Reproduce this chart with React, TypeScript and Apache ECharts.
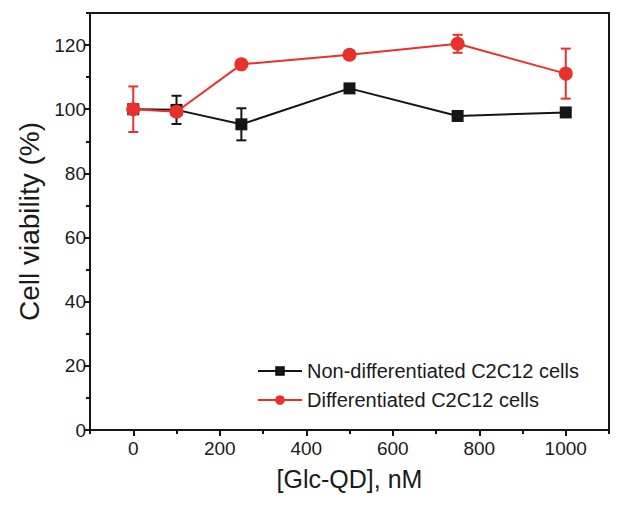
import React, { useEffect, useRef } from "react";
import * as echarts from "echarts";

const concentrations = [0, 100, 250, 500, 750, 1000];
const nonDiffMean = [100, 99.8, 95.3, 106.5, 97.9, 99.0];
const nonDiffErr = [1.0, 4.4, 5.0, 0.8, 0.8, 0.6];
const diffMean = [100, 99.2, 114.0, 117.0, 120.4, 111.1];
const diffErr = [7.1, 1.0, 0.6, 1.2, 2.8, 7.8];

const xMajorTicks = [0, 200, 400, 600, 800, 1000];
const xMinorTicks = [-100, 100, 300, 500, 700, 900, 1100];
const yMajorTicks = [0, 20, 40, 60, 80, 100, 120];
const yMinorTicks = [10, 30, 50, 70, 90, 110, 130];

const seriesNames = ["Non-differentiated C2C12 cells", "Differentiated C2C12 cells"];
const BLACK = "#151515";
const RED = "#e8312b";
const TEXT = "#1a1a1a";
const FONT = "Liberation Sans, Arial, sans-serif";

function errBars(means: number[], errs: number[]) {
  return concentrations.map((x, i) => [x, means[i] - errs[i], means[i] + errs[i]]);
}

function makeErrSeries(means: number[], errs: number[], color: string, z: number) {
  return {
    type: "custom",
    silent: true,
    z,
    data: errBars(means, errs),
    encode: { x: 0, y: [1, 2] },
    renderItem: (params: any, api: any) => {
      const x = api.value(0);
      const lo = api.value(1);
      const hi = api.value(2);
      const pHi = api.coord([x, hi]);
      const pLo = api.coord([x, lo]);
      const hw = 5;
      const style = { stroke: color, lineWidth: 2 };
      return {
        type: "group",
        children: [
          { type: "line", shape: { x1: pHi[0], y1: pHi[1], x2: pLo[0], y2: pLo[1] }, style },
          { type: "line", shape: { x1: pHi[0] - hw, y1: pHi[1], x2: pHi[0] + hw, y2: pHi[1] }, style },
          { type: "line", shape: { x1: pLo[0] - hw, y1: pLo[1], x2: pLo[0] + hw, y2: pLo[1] }, style },
        ],
      };
    },
  };
}

export default function App() {
  const ref = useRef<HTMLDivElement>(null);
  useEffect(() => {
    if (!ref.current) return;
    const chart = echarts.init(ref.current, null, { renderer: "svg" });
    const axisCommon = { min: -100, max: 1100 };
    chart.setOption({
      animation: false,
      backgroundColor: "#ffffff",
      textStyle: { fontFamily: FONT },
      grid: {
        left: 90,
        right: 12,
        top: 13,
        bottom: 76,
        show: true,
        borderColor: BLACK,
        borderWidth: 2,
      },
      legend: {
        data: seriesNames,
        orient: "vertical",
        left: 252,
        top: 356,
        itemWidth: 44,
        itemHeight: 12,
        itemGap: 9,
        textStyle: { fontSize: 20, color: TEXT, fontFamily: FONT },
      },
      xAxis: [
        {
          type: "value",
          ...axisCommon,
          name: "[Glc-QD], nM",
          nameLocation: "middle",
          nameGap: 36,
          nameTextStyle: { fontSize: 25, color: TEXT, fontFamily: FONT },
          splitLine: { show: false },
          axisLine: { show: true, onZero: false, lineStyle: { color: BLACK, width: 2 } },
          axisTick: { show: true, customValues: xMajorTicks, length: 6, lineStyle: { color: BLACK, width: 2 } },
          axisLabel: {
            customValues: xMajorTicks,
            fontSize: 19,
            color: TEXT,
            margin: 9,
            fontFamily: FONT,
            formatter: (v: number) => String(v),
          },
        },
        {
          type: "value",
          ...axisCommon,
          position: "bottom",
          splitLine: { show: false },
          axisLine: { show: false, onZero: false },
          axisTick: { show: true, customValues: xMinorTicks, length: 4, lineStyle: { color: BLACK, width: 2 } },
          axisLabel: { show: false },
        },
      ],
      yAxis: [
        {
          type: "value",
          min: 0,
          max: 130,
          name: "Cell viability (%)",
          nameLocation: "middle",
          nameGap: 47,
          nameTextStyle: { fontSize: 28, color: TEXT, fontFamily: FONT },
          splitLine: { show: false },
          axisLine: { show: true, onZero: false, lineStyle: { color: BLACK, width: 2 } },
          axisTick: { show: true, customValues: yMajorTicks, length: 6, lineStyle: { color: BLACK, width: 2 } },
          axisLabel: {
            customValues: yMajorTicks,
            fontSize: 19,
            color: TEXT,
            margin: 4,
            fontFamily: FONT,
            formatter: (v: number) => String(v),
          },
        },
        {
          type: "value",
          min: 0,
          max: 130,
          position: "left",
          splitLine: { show: false },
          axisLine: { show: false, onZero: false },
          axisTick: { show: true, customValues: yMinorTicks, length: 4, lineStyle: { color: BLACK, width: 2 } },
          axisLabel: { show: false },
        },
      ],
      series: [
        makeErrSeries(nonDiffMean, nonDiffErr, BLACK, 2),
        {
          name: seriesNames[0],
          type: "line",
          z: 3,
          data: concentrations.map((x, i) => [x, nonDiffMean[i]]),
          symbol: "rect",
          symbolSize: 12,
          itemStyle: { color: BLACK },
          lineStyle: { color: BLACK, width: 2 },
        },
        makeErrSeries(diffMean, diffErr, RED, 4),
        {
          name: seriesNames[1],
          type: "line",
          z: 5,
          data: concentrations.map((x, i) => [x, diffMean[i]]),
          symbol: "circle",
          symbolSize: 14,
          itemStyle: { color: RED },
          lineStyle: { color: RED, width: 2 },
        },
      ],
    });
    return () => chart.dispose();
  }, []);
  return <div ref={ref} style={{ width: 621, height: 506, position: "absolute", left: 0, top: 0 }} />;
}
